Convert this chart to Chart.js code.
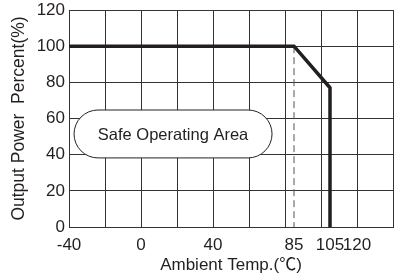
<!DOCTYPE html>
<html>
<head>
<meta charset="utf-8">
<script src="https://cdn.jsdelivr.net/npm/chart.js@4/dist/chart.umd.min.js"></script>
<style>
  html, body { margin: 0; padding: 0; background: #fff; }
  #wrap { width: 395px; height: 276px; }
</style>
</head>
<body>
<div id="wrap"><canvas id="derating"></canvas></div>
<script>
// derating curve
const tempPoints = [-40, 85, 105, 105];
const powerPoints = [100, 100, 77, 0];
const dashTemp = [85, 85];
const dashPower = [100, 0];
const xTickLabels = [-40, 0, 40, 85, 105, 120];
const xGridValues = [-40, -20, 0, 20, 40, 60, 80, 100, 120, 140];
const yTicks = [0, 20, 40, 60, 80, 100, 120];

const FONT = "'Liberation Sans', 'Noto Sans CJK SC', Arial, sans-serif";

// rounded "Safe Operating Area" label, placed in data units
const areaLabel = {
  id: "areaLabel",
  beforeDatasetsDraw(chart, args, opts) {
    const { ctx, scales } = chart;
    const x1 = scales.x.getPixelForValue(opts.x0);
    const x2 = scales.x.getPixelForValue(opts.x1);
    const y1 = scales.y.getPixelForValue(opts.y1);
    const y2 = scales.y.getPixelForValue(opts.y0);
    const r = (y2 - y1) / 2;
    ctx.save();
    ctx.beginPath();
    ctx.roundRect(x1, y1, x2 - x1, y2 - y1, r);
    ctx.fillStyle = "#fff";
    ctx.fill();
    ctx.lineWidth = 1;
    ctx.strokeStyle = "#222";
    ctx.stroke();
    ctx.fillStyle = "#231f20";
    ctx.font = "16.5px " + FONT;
    ctx.textAlign = "center";
    ctx.textBaseline = "middle";
    ctx.fillText(opts.text, (x1 + x2) / 2, (y1 + y2) / 2 + 1);
    ctx.restore();
  }
};

new Chart(document.getElementById("derating"), {
  type: "line",
  data: {
    datasets: [
      {
        data: tempPoints.map((t, i) => ({ x: t, y: powerPoints[i] })),
        borderColor: "#231f20",
        borderWidth: 3.5,
        pointRadius: 0,
        tension: 0,
        order: 1
      },
      {
        data: dashTemp.map((t, i) => ({ x: t, y: dashPower[i] })),
        borderColor: "#555",
        borderWidth: 1,
        borderDash: [7, 4],
        pointRadius: 0,
        order: 2
      }
    ]
  },
  options: {
    responsive: true,
    maintainAspectRatio: false,
    animation: false,
    layout: { padding: { left: 0, right: 2, top: 10, bottom: 0 } },
    plugins: {
      legend: { display: false },
      tooltip: { enabled: false },
      areaLabel: { text: "Safe Operating Area", x0: -37.2, x1: 72.8, y0: 38.2, y1: 64.7 }
    },
    scales: {
      x: {
        type: "linear",
        min: -40,
        max: 140,
        afterBuildTicks: (scale) => {
          const vals = Array.from(new Set(xGridValues.concat(xTickLabels))).sort((a, b) => a - b);
          scale.ticks = vals.map(v => ({ value: v }));
        },
        afterFit: (scale) => {
          scale.height = 49;
          scale.paddingLeft = 0;
          scale.paddingRight = 0;
        },
        ticks: {
          autoSkip: false,
          maxRotation: 0,
          padding: 8,
          color: "#231f20",
          font: { family: FONT, size: 17 },
          callback: (v) => xTickLabels.includes(v) ? String(v) : ""
        },
        grid: {
          drawTicks: false,
          color: (c) => xGridValues.includes(c.tick && c.tick.value) ? "#333" : "rgba(0,0,0,0)",
          lineWidth: 1
        },
        border: { color: "#333", width: 1 },
        title: {
          display: true,
          text: "Ambient Temp.(℃)",
          color: "#231f20",
          font: { family: FONT, size: 17 },
          padding: { top: 0, bottom: 0 }
        }
      },
      y: {
        min: 0,
        max: 120,
        afterBuildTicks: (scale) => { scale.ticks = yTicks.map(v => ({ value: v })); },
        afterFit: (scale) => {
          scale.width = 69;
          scale.paddingTop = 0;
          scale.paddingBottom = 0;
        },
        ticks: {
          padding: 4,
          color: "#231f20",
          font: { family: FONT, size: 17 }
        },
        grid: { drawTicks: false, color: "#333", lineWidth: 1 },
        border: { color: "#333", width: 1 },
        title: {
          display: true,
          text: "Output Power  Percent(%)",
          color: "#231f20",
          font: { family: FONT, size: 17.5 },
          padding: { top: 9, bottom: 0 }
        }
      }
    }
  },
  plugins: [areaLabel]
});
</script>
</body>
</html>
